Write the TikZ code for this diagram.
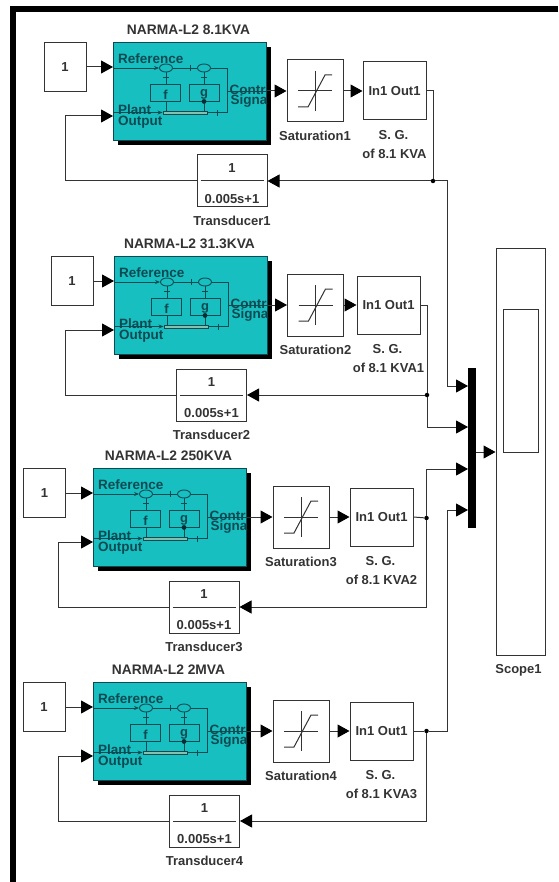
\documentclass[tikz,border=0pt]{standalone}
\usepackage{fontspec}
\setmainfont{Liberation Sans}
\usetikzlibrary{arrows.meta,shapes.geometric}
\definecolor{linegray}{HTML}{333333}
\definecolor{narmateal}{HTML}{18BFC0}
\definecolor{innerteal}{HTML}{0C4A52}
\definecolor{barfill}{HTML}{86BFAE}
\tikzset{
  block/.style={draw=linegray,line width=1pt,fill=white,inner sep=0pt},
  txt/.style={text=linegray,inner sep=0pt,font=\fontsize{13}{15}\selectfont\bfseries},
  titletxt/.style={txt,font=\fontsize{13.8}{15}\selectfont\bfseries},
  innertxt/.style={text=innerteal,inner sep=0pt,anchor=west,font=\fontsize{13.5}{15}\selectfont\bfseries},
  innerbox/.style={draw=innerteal,line width=0.9pt,inner sep=0pt},
  innerletter/.style={text=innerteal,inner sep=0pt,font=\fontsize{13}{15}\selectfont\bfseries},
  wire/.style={draw=linegray,line width=1pt},
  sig/.style={wire,-{Triangle[length=12pt,width=13pt,black]}},
  innerwire/.style={draw=innerteal,line width=0.9pt},
  junction/.style={circle,fill=black,inner sep=0pt,minimum size=4.5pt},
}
\begin{document}
\begin{tikzpicture}[x=1pt,y=-1pt]
    \useasboundingbox (0,0) rectangle (558,882);
    % Outer frame
    \fill[black] (10,6) rectangle (558,12);
    \fill[black] (10,6) rectangle (16,882);
    % The four controller rows
    \foreach \row/\lx/\ty/\rating/\cx/\fb/\sx/\gx/\tx/\suf in {
        1/113/42/8.1KVA/65/65/315/394.5/232/{},
        2/114/256/31.3KVA/72/65/315.5/388.5/211.5/1,
        3/93/468/250KVA/44.5/58/301/381.5/204/2,
        4/93/682/2MVA/44/58/301/381.5/204.5/3}{
        \node[titletxt] (title\row) at (\lx+75.5,\ty-12.5) {NARMA-L2 \rating};
        \node[block,minimum width=42pt,minimum height=49pt] (const\row) at (\cx,\ty+25) {};
        \node[txt] (constval\row) at (const\row) {1};
        \fill[black] (\lx+5,\ty+5) rectangle (\lx+158,\ty+103);
        \node[draw=innerteal,line width=1pt,fill=narmateal,anchor=north west,minimum width=153pt,minimum height=98pt,inner sep=0pt] (narma\row) at (\lx,\ty) {};
        % Inside of the controller
        \begin{scope}[shift={(\lx,\ty)}]
            \node[innerbox,ellipse,minimum width=13pt,minimum height=8pt] (sumf\row) at (53,26) {};
            \node[innerbox,ellipse,minimum width=13pt,minimum height=8pt] (sumg\row) at (91,26) {};
            \node[innerbox,minimum width=30pt,minimum height=17pt] (f\row) at (52.5,50.5) {};
            \node[innerbox,minimum width=30pt,minimum height=17pt] (g\row) at (91,50.5) {};
            \node[innerletter] (fname\row) at (52.5,53) {f};
            \node[innerletter] (gname\row) at (91,52) {g};
            \node[innerbox,fill=barfill,minimum width=44pt,minimum height=3pt] (bar\row) at (72,70.5) {};
            \coordinate (turntop\row) at (114,26);
            \coordinate (turnmid\row) at (114,49);
            \coordinate (turnlow\row) at (114,70.5);
            \draw[innerwire,-{Stealth[length=5pt,width=4pt]}] (narma\row.west |- sumf\row) -- (sumf\row.west);
            \draw[innerwire] (sumf\row.east) -- (sumg\row.west);
            \draw[innerwire] (sumg\row.east) -- (turntop\row) -- (turnlow\row) -- (bar\row.east);
            \draw[innerwire] (turnmid\row) -- (turnmid\row -| narma\row.east);
            \draw[innerwire,-{Stealth[length=5pt,width=4pt]}] (narma\row.west |- bar\row) -- (bar\row.west);
            \draw[innerwire] (sumf\row.south) -- (sumf\row.south |- f\row.north);
            \draw[innerwire] (sumg\row.south) -- (g\row.north);
            \draw[innerwire] (sumf\row.south |- f\row.south) -- (sumf\row.south |- bar\row.north);
            \draw[innerwire] (g\row.south) -- (g\row.south |- bar\row.north);
            \fill[innerteal!60!black] (g\row.south) circle (2.4pt);
            % Small ticks on the inner lines
            \draw[innerwire] (77,23) -- (77,29);
            \draw[innerwire] (104,68) -- (104,74);
            \draw[innerwire] (50,35) -- (56,35);
            \draw[innerwire] (88,35) -- (94,35);
            \node[innertxt] (ref\row) at (5,17) {Reference};
            \node[innertxt] (plant\row) at (5,68) {Plant};
            \node[innertxt] (output\row) at (5,80) {Output};
            \node[innertxt] (contr\row) at (116.5,48) {Contr};
            \node[innertxt] (signa\row) at (117.5,59) {Signa};
        \end{scope}
        % Saturation
        \node[block,minimum width=56pt,minimum height=62pt] (sat\row) at (\sx,\ty+49) {};
        \begin{scope}[shift={(sat\row.center)}]
            \draw[wire] (-17,0) -- (17,0);
            \draw[wire] (0,-20) -- (0,20);
            \draw[wire] (-17,16) -- (-7,16) -- (10,-16) -- (17,-16);
        \end{scope}
        \node[txt] (satlabel\row) at (\sx,\ty+94) {Saturation\row};
        % Generator block
        \node[block,minimum width=63pt,minimum height=58pt] (sg\row) at (\gx,\ty+49) {};
        \node[txt] (sgtext\row) at (sg\row) {In1 Out1};
        \node[txt] (sgname\row) at (\gx-1,\ty+93) {S. G.};
        \node[txt] (sgof\row) at (\gx,\ty+112) {of 8.1 KVA\suf};
        % Transducer
        \node[block,minimum width=70pt,minimum height=52pt] (trans\row) at (\tx,\ty+139) {};
        \draw[wire] ([xshift=4pt]trans\row.west) -- ([xshift=-4pt]trans\row.east);
        \node[txt] (transnum\row) at ([yshift=13pt]trans\row.center) {1};
        \node[txt] (transden\row) at ([yshift=-18pt]trans\row.center) {0.005s+1};
        \node[txt] (translabel\row) at (\tx,\ty+179) {Transducer\row};
        % Connectors of the row
        \coordinate (feed\row) at (\fb,\ty+74);
        \draw[sig] (const\row.east) -- (const\row.east -| narma\row.west);
        \draw[sig] (sat\row.west -| narma\row.east) -- (sat\row.west);
        \draw[sig] (sat\row.east) -- (sg\row.west);
        \draw[sig] (trans\row.west) -| (feed\row) -- (feed\row -| narma\row.west);
    }
    % Bus and scope
    \node[fill=black,minimum width=8pt,minimum height=160pt,inner sep=0pt] (bus) at (472,448) {};
    \node[block,minimum width=49pt,minimum height=406pt] (scope) at (520.5,452) {};
    \node[block,minimum width=35pt,minimum height=143pt] (scopeview) at (520.5,380.5) {};
    \node[txt] (scopelabel) at (518.5,670) {Scope1};
    \coordinate (busout) at (476,452);
    \draw[sig] (busout) -- (busout -| scope.west);
    \coordinate (busin1) at (468,386);
    \coordinate (busin2) at (468,427);
    \coordinate (busin3) at (468,469);
    \coordinate (busin4) at (468,510);
    % Outputs to bus and to transducers
    \node[junction] (join1) at (433,181) {};
    \node[junction] (join2) at (427,395) {};
    \node[junction] (join3) at (426.5,518) {};
    \node[junction] (join4) at (426.5,731) {};
    \coordinate (rise1) at (447,181);
    \coordinate (rise4) at (447,731);
    \draw[wire] (sg1.east) -| (join1);
    \draw[sig] (join1) -- (trans1.east |- join1);
    \draw[sig] (join1) -- (rise1) |- (busin1);
    \draw[wire] (sg2.east) -| (join2);
    \draw[sig] (join2) -- (trans2.east |- join2);
    \draw[sig] (join2) |- (busin2);
    \draw[wire] (sg3.east) -- (join3);
    \draw[sig] (join3) |- (busin3);
    \draw[sig] (join3) |- (trans3.east);
    \draw[wire] (sg4.east) -- (join4);
    \draw[sig] (join4) -- (rise4) |- (busin4);
    \draw[sig] (join4) |- (trans4.east);
\end{tikzpicture}
\end{document}
